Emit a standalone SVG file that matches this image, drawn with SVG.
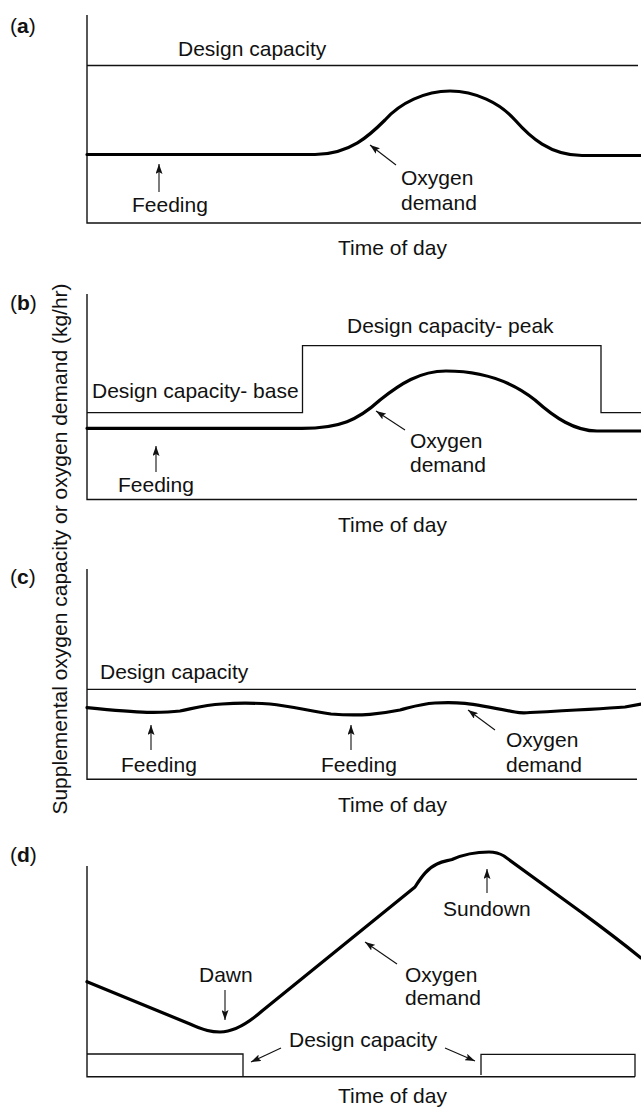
<svg xmlns="http://www.w3.org/2000/svg" width="641" height="1108" viewBox="0 0 641 1108">
<style>
.t{font-family:"Liberation Sans",Arial,Helvetica,sans-serif;font-size:21px;fill:#111}
.b{font-weight:bold}
.ax{fill:none;stroke:#111;stroke-width:1.4}
.cap{fill:none;stroke:#111;stroke-width:1.3}
.dem{fill:none;stroke:#000;stroke-width:3.2;stroke-linejoin:round;stroke-linecap:round}
.ar{fill:none;stroke:#111;stroke-width:1.1;marker-end:url(#ah)}
</style>
<defs>
<marker id="ah" markerUnits="userSpaceOnUse" markerWidth="11" markerHeight="7" refX="10" refY="3.5" orient="auto">
<path d="M0,0 L10,3.5 L0,7 L2,3.5 z" fill="#111"/>
</marker>
</defs>
<rect width="641" height="1108" fill="#fff"/>

<g id="y-axis-label">
<text class="t" transform="translate(67,549) rotate(-90)" text-anchor="middle">Supplemental oxygen capacity or oxygen demand (kg/hr)</text>
</g>

<g id="panel-a">
<text class="t" x="10" y="33">(<tspan class="b">a</tspan>)</text>
<path class="ax" d="M87,15 V223 H641"/>
<path class="cap" d="M87,65.5 H638"/>
<text class="t" x="178" y="56">Design capacity</text>
<path class="dem" d="M87,154.5 H315 C350,154.5 370,135 385,120 C400,103 425,91 450,91 C475,91 500,103 515,120 C530,137 550,155.5 582,155.5 H641"/>
<text class="t" x="132" y="212">Feeding</text>
<text class="t" x="401" y="185">Oxygen</text>
<text class="t" x="401" y="210">demand</text>
<text class="t" x="338" y="255">Time of day</text>
</g>

<g id="panel-b">
<text class="t" x="10" y="310">(<tspan class="b">b</tspan>)</text>
<path class="ax" d="M87,294 V499.5 H637"/>
<path class="cap" d="M87,412.7 H302.5 V345.7 H601 V412.7 H641"/>
<text class="t" x="347" y="333">Design capacity- peak</text>
<text class="t" x="92" y="398">Design capacity- base</text>
<path class="dem" d="M87,428.3 H302 C340,428.3 358,420 380,400 C400,384 420,371 446,371 C480,371 510,380 535,400 C555,418 575,431 597,431 H641"/>
<text class="t" x="118" y="492">Feeding</text>
<text class="t" x="410" y="448">Oxygen</text>
<text class="t" x="410" y="472">demand</text>
<text class="t" x="338" y="532">Time of day</text>
</g>

<g id="panel-c">
<text class="t" x="10" y="584">(<tspan class="b">c</tspan>)</text>
<path class="ax" d="M87,569 V779.3 H637"/>
<path class="cap" d="M87,689.3 H636"/>
<text class="t" x="100" y="679">Design capacity</text>
<path class="dem" d="M87,707.7 C110,710 130,712 147,712.3 C160,712.5 172,712 180,711 C195,708 205,705 222,704 C235,703 255,703 270,704 C290,706 310,711 331,714 C345,715 360,715 370,714.3 C380,713.5 390,712 400,710 C412,707 420,704 435,703 C445,702.5 455,702.5 465,703.3 C480,705 500,709 515,712 C520,713 525,713 530,712.5 C560,711 600,709 625,707 L641,704"/>
<text class="t" x="121" y="772">Feeding</text>
<text class="t" x="321" y="772">Feeding</text>
<text class="t" x="506" y="747">Oxygen</text>
<text class="t" x="506" y="772">demand</text>
<text class="t" x="338" y="812">Time of day</text>
</g>

<g id="panel-d">
<text class="t" x="10" y="862">(<tspan class="b">d</tspan>)</text>
<path class="ax" d="M87,866 V1076.7 H635"/>
<path class="cap" d="M87,1054 H243 V1076.7 M481,1075 V1054.3 H635 V1076.7"/>
<text class="t" x="289" y="1047">Design capacity</text>
<path class="dem" d="M87,981.7 L190,1024 C205,1031 212,1032 220,1032 C232,1032 245,1026 262,1011 L415,887 C422,876 428,868 437,864 C443,861 447,861 452,859.5 C462,855 475,852 489,852 C495,852 499,853 504,856 L581,912 C600,926 615,937 641,958"/>
<text class="t" x="199" y="982">Dawn</text>
<text class="t" x="443" y="916">Sundown</text>
<text class="t" x="405" y="982">Oxygen</text>
<text class="t" x="405" y="1005">demand</text>
<text class="t" x="338" y="1103">Time of day</text>
</g>

<g id="connectors">
<path class="ar" d="M159,192 V164"/>
<path class="ar" d="M396,165 L370,145"/>
<path class="ar" d="M156,472 V446"/>
<path class="ar" d="M405,430 L376,411"/>
<path class="ar" d="M151,750 V725"/>
<path class="ar" d="M351,750 V725"/>
<path class="ar" d="M495,730 L468,710"/>
<path class="ar" d="M225,990 V1020"/>
<path class="ar" d="M487,893 V869"/>
<path class="ar" d="M397,964 L365,942"/>
<path class="ar" d="M281,1048 L251,1062"/>
<path class="ar" d="M445,1048 L475,1061"/>
</g>
</svg>
